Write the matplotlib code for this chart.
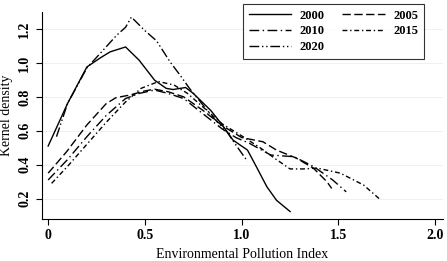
import numpy as np
import matplotlib.pyplot as plt

plt.rcParams['font.family'] = ['Liberation Serif', 'DejaVu Serif']

# Kernel density curves (x = pollution index, y = density)
x2000 = [0.0, 0.1, 0.2, 0.27, 0.32, 0.40, 0.47, 0.55, 0.61, 0.645, 0.71, 0.75, 0.84, 0.90, 0.955, 1.03, 1.08, 1.13, 1.18, 1.25]
y2000 = [0.51, 0.76, 0.976, 1.03, 1.065, 1.094, 1.016, 0.898, 0.85, 0.843, 0.855, 0.82, 0.72, 0.634, 0.545, 0.486, 0.379, 0.27, 0.19, 0.124]

x2005 = [0.0, 0.095, 0.2, 0.30, 0.35, 0.42, 0.50, 0.55, 0.62, 0.70, 0.80, 0.90, 1.0, 1.11, 1.18, 1.28, 1.37, 1.44, 1.465]
y2005 = [0.35, 0.476, 0.634, 0.76, 0.795, 0.81, 0.835, 0.845, 0.83, 0.80, 0.72, 0.63, 0.56, 0.535, 0.486, 0.44, 0.38, 0.30, 0.26]

x2010 = [0.0, 0.1, 0.2, 0.30, 0.40, 0.47, 0.55, 0.62, 0.70, 0.80, 0.90, 0.97, 1.04, 1.15, 1.27, 1.37, 1.47, 1.54]
y2010 = [0.31, 0.43, 0.565, 0.69, 0.79, 0.82, 0.84, 0.82, 0.79, 0.70, 0.61, 0.56, 0.526, 0.457, 0.447, 0.39, 0.31, 0.24]

x2015 = [0.018, 0.1, 0.2, 0.30, 0.40, 0.48, 0.57, 0.65, 0.72, 0.82, 0.90, 1.0, 1.095, 1.18, 1.25, 1.32, 1.39, 1.51, 1.63, 1.72]
y2015 = [0.29, 0.39, 0.52, 0.65, 0.77, 0.85, 0.89, 0.87, 0.82, 0.72, 0.64, 0.57, 0.50, 0.43, 0.375, 0.375, 0.38, 0.35, 0.28, 0.19]

x2020 = [0.043, 0.1, 0.2, 0.276, 0.354, 0.40, 0.43, 0.50, 0.56, 0.63, 0.68, 0.73, 0.78, 0.85, 0.92, 0.98, 1.03]
y2020 = [0.565, 0.76, 0.97, 1.065, 1.163, 1.21, 1.27, 1.19, 1.13, 1.006, 0.93, 0.85, 0.78, 0.68, 0.60, 0.50, 0.42]

fig = plt.figure(figsize=(4.47, 2.61), dpi=100)
ax = fig.add_axes([0.093, 0.161, 0.898, 0.793])

lw = 1.0
h2000, = ax.plot(x2000, y2000, color='black', lw=lw, ls='-', label='2000')
h2005, = ax.plot(x2005, y2005, color='black', lw=lw, ls=(0, (6, 2.5)), label='2005')
h2010, = ax.plot(x2010, y2010, color='black', lw=lw, ls=(0, (7, 2.5, 1, 2.5)), label='2010')
h2015, = ax.plot(x2015, y2015, color='black', lw=lw, ls=(0, (3.5, 2, 1, 2)), label='2015')
h2020, = ax.plot(x2020, y2020, color='black', lw=lw, ls=(0, (7, 2, 1, 2, 1, 2)), label='2020')

ax.set_xlim(-0.034, 2.04)
ax.set_ylim(0.08, 1.3)
ax.set_xticks([0, 0.5, 1.0, 1.5, 2.0])
ax.set_xticklabels(['0', '0.5', '1.0', '1.5', '2.0'], fontweight='bold', fontsize=10)
ax.set_yticks([0.2, 0.4, 0.6, 0.8, 1.0, 1.2])
ax.set_yticklabels(['0.2', '0.4', '0.6', '0.8', '1.0', '1.2'], fontweight='bold', fontsize=10,
                   rotation=90, va='center')
ax.tick_params(length=4, width=0.8, colors='black')
ax.grid(axis='y', color='#eeeeee', lw=0.6)
ax.spines['top'].set_visible(False)
ax.spines['right'].set_visible(False)

ax.set_xlabel('Environmental Pollution Index', fontsize=10)
ax.set_ylabel('Kernel density', fontsize=10)

# legend fills column by column: 2000/2010/2020 left, 2005/2015 right
handles = [h2000, h2010, h2020, h2005, h2015]
leg = fig.legend(handles=handles, labels=[h.get_label() for h in handles],
                 loc='upper left', bbox_to_anchor=(243 / 447, 1 - 4 / 261), ncol=2,
                 prop={'weight': 'bold', 'size': 9}, frameon=True, fancybox=False,
                 edgecolor='black', handlelength=3.4, columnspacing=1.45,
                 handletextpad=0.65, labelspacing=0.3, borderpad=0.45,
                 borderaxespad=0)
leg.get_frame().set_linewidth(0.8)

fig.savefig('out.png', dpi=100)
